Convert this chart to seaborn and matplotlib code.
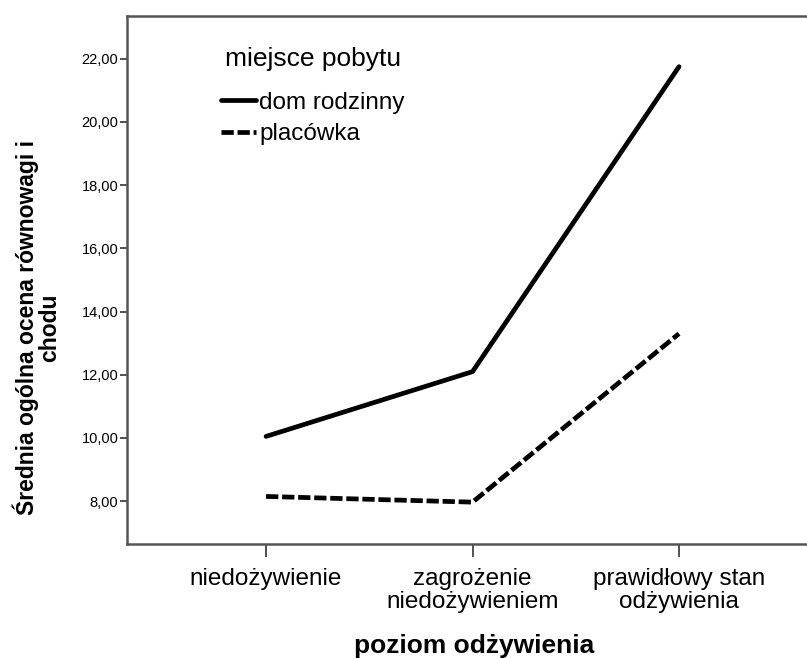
import matplotlib
matplotlib.use('Agg')
import matplotlib.pyplot as plt
from matplotlib.ticker import FuncFormatter

import pandas as pd
import seaborn as sns

# data
poziomy = ['niedożywienie', 'zagrożenie\nniedożywieniem', 'prawidłowy stan\nodżywienia']
dom_rodzinny = [10.05, 12.10, 21.75]
placowka = [8.15, 7.97, 13.30]
grupy = ['dom rodzinny', 'placówka']


def buildFrame():
    """Long table for seaborn."""
    rows = []
    for grupa, vals in zip(grupy, [dom_rodzinny, placowka]):
        for i, v in enumerate(vals):
            rows.append({'poziom': i, 'miejsce': grupa, 'ocena': v})
    return pd.DataFrame(rows)


def main():
    sns.set_style('white')
    plt.rcParams['font.family'] = ['Liberation Sans', 'DejaVu Sans']
    for key in ['text.color', 'axes.labelcolor', 'xtick.color', 'ytick.color']:
        plt.rcParams[key] = 'black'

    fig, ax = plt.subplots(figsize=(8.07, 6.58), dpi=100)
    fig.subplots_adjust(left=0.157, right=1.0, bottom=0.173, top=0.976)

    df = buildFrame()
    sns.lineplot(data=df, x='poziom', y='ocena', hue='miejsce', style='miejsce',
                 palette=['black', 'black'], dashes={'dom rodzinny': '', 'placówka': (2.6, 0.8)},
                 linewidth=3.4, ax=ax)

    ax.set_xlim(-0.675, 2.62)
    ax.set_ylim(6.64, 23.36)
    ax.set_xticks(range(len(poziomy)))
    ax.set_xticklabels(poziomy, fontsize=17.5, linespacing=1.05)
    ax.set_yticks([8, 10, 12, 14, 16, 18, 20, 22])
    ax.yaxis.set_major_formatter(FuncFormatter(lambda v, p: '{:.2f}'.format(v).replace('.', ',')))
    ax.tick_params(axis='y', labelsize=10.5, length=5, width=1.2, color='#333333', pad=1, left=True)
    ax.tick_params(axis='x', length=9, width=1.2, color='#333333', pad=8, bottom=True)

    # spines like SPSS: box without right side
    for side in ['left', 'bottom', 'top']:
        ax.spines[side].set_color('#555555')
        ax.spines[side].set_linewidth(1.8)
    ax.spines['right'].set_visible(False)

    ax.set_xlabel('poziom odżywienia', fontsize=19, fontweight='bold')
    ax.set_ylabel('Średnia ogólna ocena równowagi i\nchodu', fontsize=16.5, fontweight='bold',
                  linespacing=0.95)
    ax.xaxis.set_label_coords(0.51, -0.17)
    ax.yaxis.set_label_coords(-0.097, 0.41)

    # legend: title as its own text, entries below it
    ax.text(0.144, 0.919, 'miejsce pobytu', transform=ax.transAxes, fontsize=19,
            ha='left', va='center')
    handles, labels = ax.get_legend_handles_labels()
    leg = ax.legend(handles=handles, labels=labels, loc='upper left',
                    bbox_to_anchor=(0.138, 0.856), frameon=False, fontsize=17.5,
                    handlelength=1.45, handletextpad=0.15, borderpad=0, borderaxespad=0,
                    labelspacing=0.38)
    for line in leg.get_lines():
        line.set_linewidth(3.4)

    fig.savefig('out.png', dpi=100)


if __name__ == '__main__':
    main()
